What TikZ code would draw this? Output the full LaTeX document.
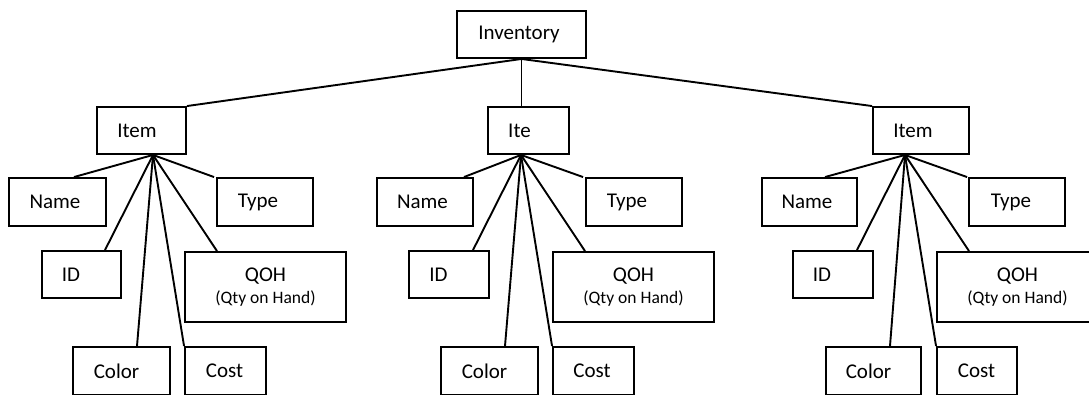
\documentclass[tikz,border=0pt]{standalone}
\usepackage{fontspec}
\setmainfont{Carlito}
\begin{document}
\begin{tikzpicture}[x=1pt,y=-1pt,
  box/.style={draw, line width=1.9pt, inner sep=0pt, minimum height=47pt, font=\fontsize{21}{22}\selectfont, align=center},
  link/.style={line width=1.9pt}]
\useasboundingbox (0,0) rectangle (1089,394);
\clip (0,0) rectangle (1089,394);
\fill[white] (0,0) rectangle (1089,394);
% root
\node[box, minimum width=129pt] (inv) at (521.5,34.5) {Inventory\hspace{5pt}};
% left group
\node[box, minimum width=89pt] (itemL) at (141.5,130.5) {Item\hspace{9pt}};
\node[box, minimum width=97pt, minimum height=48pt] (nameL) at (57.5,202) {Name\hspace{5pt}};
\node[box, minimum width=96pt, minimum height=48pt] (typeL) at (265,202) {Type\hspace{14pt}};
\node[box, minimum width=79pt] (idL) at (81.5,274.5) {ID\hspace{21pt}};
\node[box, minimum width=161pt, minimum height=70pt] (qohL) at (265.5,287) {QOH\\{\fontsize{17.5}{22}\selectfont (Qty on Hand)}};
\node[box, minimum width=97pt, minimum height=48pt] (colorL) at (121.5,371) {Color\hspace{10pt}};
\node[box, minimum width=81pt, minimum height=48pt] (costL) at (225.5,371) {Cost\hspace{2pt}};
% middle group
\node[box, minimum width=81pt] (itemM) at (528.5,130.5) {Ite\hspace{18pt}};
\node[box, minimum width=96pt, minimum height=48pt] (nameM) at (425,202) {Name\hspace{5pt}};
\node[box, minimum width=96pt, minimum height=48pt] (typeM) at (634,202) {Type\hspace{14pt}};
\node[box, minimum width=80pt] (idM) at (449,274.5) {ID\hspace{21pt}};
\node[box, minimum width=161pt, minimum height=70pt] (qohM) at (633.5,287) {QOH\\{\fontsize{17.5}{22}\selectfont (Qty on Hand)}};
\node[box, minimum width=97pt, minimum height=48pt] (colorM) at (489.5,371) {Color\hspace{10pt}};
\node[box, minimum width=81pt, minimum height=48pt] (costM) at (593.5,371) {Cost\hspace{3pt}};
% right group
\node[box, minimum width=96pt] (itemR) at (921,130.5) {Item\hspace{16pt}};
\node[box, minimum width=95pt, minimum height=48pt] (nameR) at (809.5,202) {Name\hspace{5pt}};
\node[box, minimum width=96pt, minimum height=48pt] (typeR) at (1017,202) {Type\hspace{12pt}};
\node[box, minimum width=80pt] (idR) at (833,274.5) {ID\hspace{22pt}};
\node[box, minimum width=161pt, minimum height=70pt] (qohR) at (1017.5,287) {QOH\\{\fontsize{17.5}{22}\selectfont (Qty on Hand)}};
\node[box, minimum width=95pt, minimum height=48pt] (colorR) at (873.5,371) {Color\hspace{10pt}};
\node[box, minimum width=80pt, minimum height=48pt] (costR) at (977,371) {Cost\hspace{1pt}};
% hubs
\coordinate (hubI) at (inv.south);
\coordinate (hubL) at ([xshift=11.5pt]itemL.south);
\coordinate (hubM) at ([xshift=-7.5pt]itemM.south);
\coordinate (hubR) at ([xshift=-16pt]itemR.south);
% root links
\draw[link] (hubI) -- (itemL.north east);
\draw[link] (hubI) -- ([xshift=-7pt]itemM.north);
\draw[link] (hubI) -- (itemR.north west);
% left links
\draw[link] (hubL) -- ([xshift=16.5pt]nameL.north);
\draw[link] (hubL) -- ([xshift=-2pt]typeL.north west);
\draw[link] (hubL) -- ([xshift=23.5pt]idL.north);
\draw[link] (hubL) -- ([xshift=-48.5pt]qohL.north);
\draw[link] (hubL) -- ([xshift=15.5pt]colorL.north);
\draw[link] (hubL) -- (costL.north west);
% middle links
\draw[link] (hubM) -- ([xshift=39pt]nameM.north);
\draw[link] (hubM) -- ([xshift=-2pt]typeM.north west);
\draw[link] (hubM) -- ([xshift=24pt]idM.north);
\draw[link] (hubM) -- ([xshift=-48.5pt]qohM.north);
\draw[link] (hubM) -- ([xshift=15.5pt]colorM.north);
\draw[link] (hubM) -- (costM.north west);
% right links
\draw[link] (hubR) -- ([xshift=15.5pt]nameR.north);
\draw[link] (hubR) -- ([xshift=-1pt]typeR.north west);
\draw[link] (hubR) -- ([xshift=24pt]idR.north);
\draw[link] (hubR) -- ([xshift=-48.5pt]qohR.north);
\draw[link] (hubR) -- ([xshift=16.5pt]colorR.north);
\draw[link] (hubR) -- (costR.north west);
\end{tikzpicture}
\end{document}
